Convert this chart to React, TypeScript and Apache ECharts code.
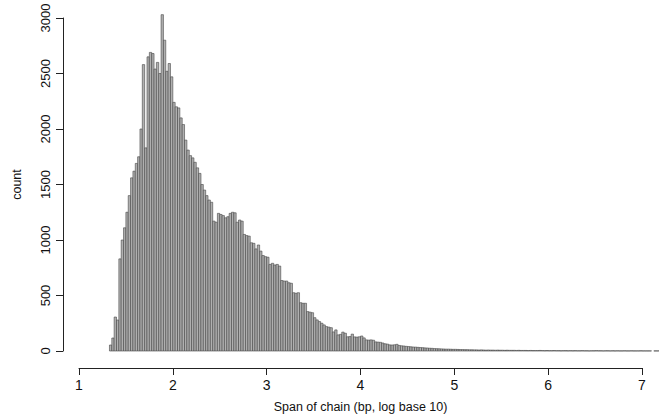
import React, { useEffect, useRef } from "react";
import * as echarts from "echarts";

// Histogram bins: first bin start and width (log10 bp)
const BIN_START = 1.3;
const BIN_WIDTH = 0.025;

// Counts per bin (bins from 1.300 up to 7.175)
const counts: number[] = [
  0, 54, 117, 306, 279, 830, 1000, 1110, 1250, 1400,
  1560, 1620, 1690, 1750, 2000, 2580, 1830, 2650, 2690, 2680,
  2540, 2600, 2500, 3030, 2800, 2520, 2590, 2470, 2240, 2200,
  2190, 2100, 2040, 1900, 1810, 1760, 1740, 1700, 1650, 1600,
  1500, 1450, 1400, 1360, 1340, 1170, 1160, 1240, 1230, 1220,
  1200, 1210, 1240, 1250, 1245, 1160, 1180, 1170, 1050, 1040,
  1035, 975, 970, 920, 955, 900, 860, 850, 845, 780,
  790, 775, 780, 765, 635, 630, 630, 615, 610, 525,
  520, 525, 435, 430, 430, 355, 350, 345, 300, 280,
  265, 250, 235, 220, 215, 210, 172, 190, 145, 150,
  170, 160, 128, 130, 152, 127, 125, 128, 135, 118,
  100, 98, 100, 97, 82, 80, 78, 72, 65, 62,
  55, 54, 56, 60, 50, 47, 45, 42, 40, 38,
  36, 35, 33, 31, 30, 28, 27, 25, 24, 22,
  21, 20, 19, 18, 17, 17, 16, 15, 15, 14,
  13, 13, 12, 12, 11, 11, 10, 10, 9, 10,
  9, 8, 9, 8, 8, 7, 8, 7, 7, 6,
  7, 6, 6, 6, 5, 6, 5, 5, 5, 4,
  5, 4, 4, 4, 5, 4, 3, 4, 3, 3,
  4, 3, 3, 2, 3, 3, 2, 3, 2, 3,
  2, 2, 3, 2, 2, 1, 2, 2, 3, 2,
  2, 1, 2, 2, 1, 2, 1, 2, 1, 1,
  2, 1, 1, 2, 1, 1, 1, 2, 1, 1,
  1, 1, 0, 1, 1, 1,
];

const xTickLabels = ["1", "2", "3", "4", "5", "6", "7"];
const yTicks = [0, 500, 1000, 1500, 2000, 2500, 3000];
const xTitle = "Span of chain (bp, log base 10)";
const yTitle = "count";

const FONT = "'Liberation Sans', Arial, Helvetica, sans-serif";

export default function App() {
  const ref = useRef<HTMLDivElement>(null);
  useEffect(() => {
    if (!ref.current) return;
    const chart = echarts.init(ref.current, undefined, { renderer: "svg" });
    const data = counts.map((c, i) => [BIN_START + i * BIN_WIDTH, c]);
    chart.setOption({
      animation: false,
      backgroundColor: "#ffffff",
      grid: [
        { left: 63, right: 0, top: 18, bottom: 67 },
        { left: 79, right: 17, top: 360, bottom: 50 },
      ],
      xAxis: [
        { gridIndex: 0, type: "value", min: 0.83, max: 7.18, show: false },
        {
          gridIndex: 1,
          type: "value",
          min: 1,
          max: 7,
          interval: 1,
          axisLine: { show: true, lineStyle: { color: "#222", width: 1 } },
          axisTick: { show: true, length: 7, lineStyle: { color: "#222" } },
          splitLine: { show: false },
          axisLabel: {
            color: "#111",
            fontSize: 14,
            fontFamily: FONT,
            margin: 10,
            formatter: (v: number) => xTickLabels[Math.round(v) - 1] ?? "",
          },
          name: xTitle,
          nameLocation: "middle",
          nameGap: 32,
          nameTextStyle: { color: "#111", fontSize: 12.5, fontFamily: FONT },
        },
      ],
      yAxis: [
        {
          gridIndex: 0,
          type: "value",
          min: yTicks[0],
          max: yTicks[yTicks.length - 1],
          interval: 500,
          axisLine: { show: true, lineStyle: { color: "#222", width: 1 } },
          axisTick: { show: true, length: 7, lineStyle: { color: "#222" } },
          splitLine: { show: false },
          axisLabel: {
            color: "#111",
            fontSize: 13,
            fontFamily: FONT,
            rotate: 90,
            margin: 11,
            formatter: (v: number) => String(v),
          },
          name: yTitle,
          nameLocation: "middle",
          nameGap: 40,
          nameRotate: 90,
          nameTextStyle: { color: "#111", fontSize: 12.5, fontFamily: FONT },
        },
        { gridIndex: 1, type: "value", show: false, min: 0, max: 1 },
      ],
      series: [
        {
          type: "custom",
          xAxisIndex: 0,
          yAxisIndex: 0,
          clip: false,
          data,
          renderItem: (params: any, api: any) => {
            const x0 = api.value(0);
            const y = api.value(1);
            if (!y) return null;
            const top = api.coord([x0, y]);
            const bot = api.coord([x0 + BIN_WIDTH, 0]);
            return {
              type: "rect",
              shape: {
                x: top[0],
                y: top[1],
                width: bot[0] - top[0],
                height: bot[1] - top[1],
              },
              style: { fill: "#b0b0b0", stroke: "#444", lineWidth: 0.6 },
            };
          },
        },
      ],
    });
    return () => chart.dispose();
  }, []);
  return (
    <div
      ref={ref}
      style={{ position: "absolute", left: 0, top: 0, width: 659, height: 418 }}
    />
  );
}
